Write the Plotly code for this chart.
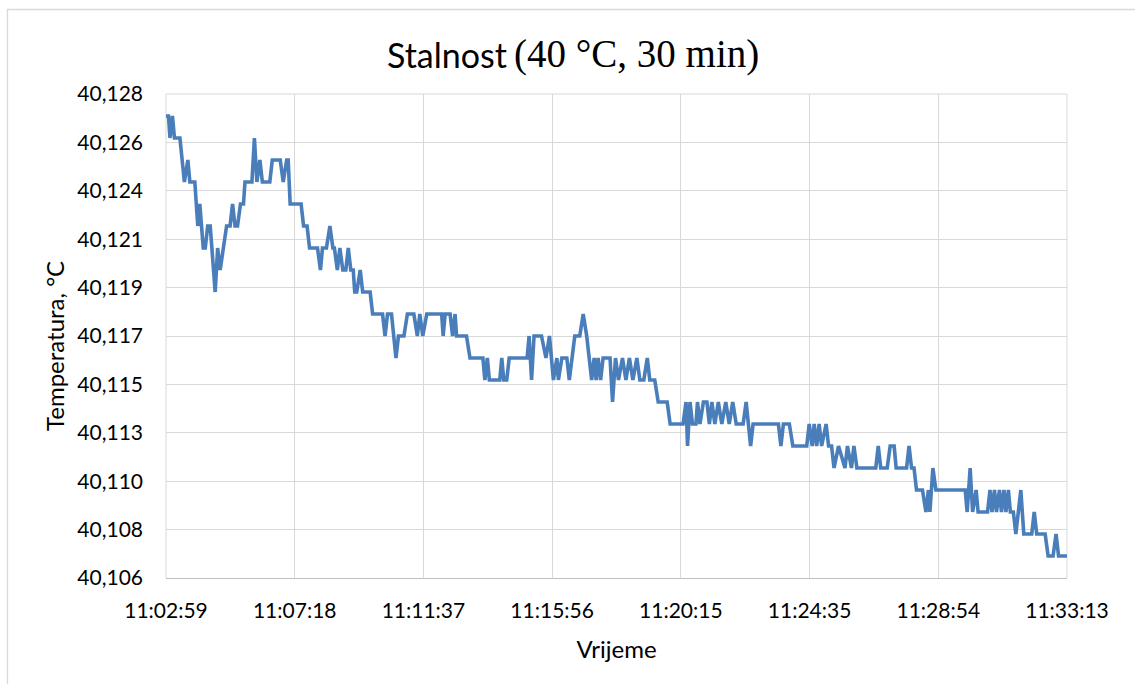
import numpy as np
import plotly.graph_objects as go

# ---- data ----
# seconds after 11:02:59
t_seconds = [
    0, 5, 8, 13, 17, 28, 37, 44, 48, 58,
    64, 68, 75, 79, 84, 89, 99, 104, 109, 115,
    122, 129, 134, 139, 144, 150, 156, 159, 173, 178,
    183, 189, 194, 209, 214, 230, 236, 243, 246, 250,
    272, 277, 284, 289, 305, 311, 315, 323, 330, 336,
    339, 345, 350, 356, 362, 367, 372, 377, 380, 384,
    391, 396, 411, 416, 436, 441, 446, 454, 463, 468,
    479, 486, 499, 506, 511, 517, 525, 555, 558, 562,
    572, 577, 582, 585, 605, 612, 638, 642, 647, 651,
    672, 676, 680, 686, 691, 727, 731, 736, 741, 756,
    765, 772, 780, 787, 790, 797, 807, 812, 817, 823,
    833, 840, 847, 852, 857, 862, 866, 870, 875, 880,
    894, 899, 905, 911, 919, 926, 933, 940, 948, 954,
    962, 969, 974, 984, 991, 1009, 1015, 1041, 1047, 1050,
    1055, 1060, 1067, 1070, 1075, 1082, 1089, 1094, 1099, 1105,
    1112, 1119, 1127, 1134, 1141, 1148, 1162, 1168, 1173, 1177,
    1182, 1196, 1233, 1238, 1243, 1255, 1262, 1290, 1295, 1301,
    1305, 1310, 1315, 1320, 1329, 1334, 1340, 1345, 1354, 1367,
    1372, 1380, 1385, 1391, 1429, 1434, 1439, 1452, 1458, 1466,
    1470, 1491, 1496, 1501, 1506, 1511, 1523, 1530, 1535, 1538,
    1544, 1550, 1609, 1613, 1619, 1624, 1631, 1635, 1654, 1659,
    1663, 1668, 1672, 1678, 1682, 1687, 1691, 1696, 1700, 1706,
    1711, 1721, 1727, 1743, 1748, 1753, 1770, 1776, 1786, 1792,
    1797, 1814,
]

temperature = [
    40.127, 40.127, 40.126, 40.127, 40.126, 40.126, 40.124, 40.125, 40.124, 40.124,
    40.122, 40.123, 40.121, 40.121, 40.122, 40.122, 40.119, 40.121, 40.120, 40.121,
    40.122, 40.122, 40.123, 40.122, 40.122, 40.123, 40.123, 40.124, 40.124, 40.126,
    40.124, 40.125, 40.124, 40.124, 40.125, 40.125, 40.124, 40.125, 40.125, 40.123,
    40.123, 40.122, 40.122, 40.121, 40.121, 40.120, 40.121, 40.121, 40.122, 40.121,
    40.121, 40.120, 40.121, 40.120, 40.120, 40.121, 40.120, 40.120, 40.119, 40.119,
    40.120, 40.119, 40.119, 40.118, 40.118, 40.117, 40.118, 40.118, 40.116, 40.117,
    40.117, 40.118, 40.118, 40.117, 40.118, 40.117, 40.118, 40.118, 40.117, 40.118,
    40.118, 40.117, 40.118, 40.117, 40.117, 40.116, 40.116, 40.115, 40.116, 40.115,
    40.115, 40.116, 40.115, 40.115, 40.116, 40.116, 40.117, 40.115, 40.117, 40.117,
    40.116, 40.117, 40.115, 40.116, 40.115, 40.116, 40.116, 40.115, 40.116, 40.117,
    40.117, 40.118, 40.117, 40.116, 40.115, 40.116, 40.115, 40.116, 40.115, 40.116,
    40.116, 40.114, 40.116, 40.115, 40.116, 40.115, 40.116, 40.115, 40.116, 40.115,
    40.115, 40.116, 40.115, 40.115, 40.114, 40.114, 40.113, 40.113, 40.114, 40.112,
    40.114, 40.113, 40.113, 40.114, 40.113, 40.114, 40.114, 40.113, 40.114, 40.113,
    40.114, 40.113, 40.114, 40.113, 40.114, 40.113, 40.113, 40.114, 40.113, 40.112,
    40.113, 40.113, 40.113, 40.112, 40.113, 40.113, 40.112, 40.112, 40.113, 40.112,
    40.113, 40.112, 40.113, 40.112, 40.113, 40.112, 40.112, 40.111, 40.112, 40.111,
    40.112, 40.111, 40.112, 40.111, 40.111, 40.112, 40.111, 40.111, 40.112, 40.112,
    40.111, 40.111, 40.112, 40.111, 40.111, 40.110, 40.110, 40.109, 40.110, 40.109,
    40.111, 40.110, 40.110, 40.109, 40.111, 40.109, 40.110, 40.109, 40.109, 40.110,
    40.109, 40.110, 40.109, 40.110, 40.109, 40.110, 40.109, 40.110, 40.109, 40.109,
    40.108, 40.110, 40.108, 40.108, 40.109, 40.108, 40.108, 40.107, 40.107, 40.108,
    40.107, 40.107,
]

x_tick_labels = ["11:02:59", "11:07:18", "11:11:37", "11:15:56",
                 "11:20:15", "11:24:35", "11:28:54", "11:33:13"]
x_axis_start = 0
x_axis_end = 1814  # 11:33:13 - 11:02:59 in seconds

y_tick_labels = ["40,106", "40,108", "40,110", "40,113", "40,115", "40,117",
                 "40,119", "40,121", "40,124", "40,126", "40,128"]
y_axis_min = 40.106
y_axis_max = 40.128

title_main = "Stalnost"
title_rest = "(40 °C, 30 min)"
x_title = "Vrijeme"
y_title = "Temperatura, °C"

# ---- figure ----
W, H = 1135, 684
L, R, T, B = 166, 68, 94, 106
pw, ph = W - L - R, H - T - B


def px_x(px):
    return (px - L) / pw


def px_y(py):
    return (H - B - py) / ph


x_tickvals = np.linspace(x_axis_start, x_axis_end, len(x_tick_labels))
y_tickvals = np.linspace(y_axis_min, y_axis_max, len(y_tick_labels))

fig = go.Figure()
fig.add_trace(go.Scatter(
    x=t_seconds, y=temperature, mode="lines",
    line=dict(color="#4a7ebb", width=3.6, shape="linear"),
    showlegend=False, hoverinfo="skip",
))

sans = "Lato, 'Open Sans', sans-serif"
tick_font = dict(family=sans, size=21, color="#000000")
axis_title_font = dict(family=sans, size=24, color="#000000")
grid = "#d9d9d9"

fig.update_layout(
    width=W, height=H,
    margin=dict(l=L, r=R, t=T, b=B, autoexpand=False),
    paper_bgcolor="white", plot_bgcolor="white",
    xaxis=dict(
        range=[x_axis_start, x_axis_end],
        tickmode="array", tickvals=x_tickvals, ticktext=x_tick_labels,
        showgrid=True, gridcolor=grid, gridwidth=1,
        showline=True, linecolor="#bfbfbf", linewidth=1.3, mirror=False,
        zeroline=False, ticks="", ticklabelstandoff=14,
        tickfont=tick_font,
        title=dict(text=x_title, font=axis_title_font, standoff=19),
    ),
    yaxis=dict(
        range=[y_axis_min, y_axis_max],
        tickmode="array", tickvals=y_tickvals, ticktext=y_tick_labels,
        showgrid=True, gridcolor=grid, gridwidth=1,
        showline=False, zeroline=False, ticks="", ticklabelstandoff=22,
        tickfont=tick_font,
    ),
)

# chart title: sans-serif word + serif (math-style) part, as in the reference
fig.add_annotation(
    text=title_main, showarrow=False, xref="paper", yref="paper",
    x=px_x(509), y=px_y(54), xanchor="right", yanchor="middle",
    font=dict(family=sans, size=34, color="#000000"),
)
fig.add_annotation(
    text=title_rest, showarrow=False, xref="paper", yref="paper",
    x=px_x(512), y=px_y(54), xanchor="left", yanchor="middle",
    font=dict(family="'Liberation Serif', serif", size=39, color="#000000"),
)

# y-axis title as an annotation (Excel places it slightly below the plot centre)
fig.add_annotation(
    text=y_title, textangle=-90, showarrow=False,
    xref="paper", yref="paper",
    x=px_x(54), y=px_y(346),
    xanchor="center", yanchor="middle",
    font=axis_title_font,
)

# plot-area frame (Excel style), drawn in axis domain coordinates
fig.add_shape(type="line", xref="x domain", yref="y domain",
              x0=1, x1=1, y0=0, y1=1, line=dict(color=grid, width=1), layer="below")
fig.add_shape(type="line", xref="x domain", yref="y domain",
              x0=0, x1=0, y0=0, y1=1, line=dict(color=grid, width=1), layer="below")
fig.add_shape(type="line", xref="x domain", yref="y domain",
              x0=0, x1=1, y0=1, y1=1, line=dict(color=grid, width=1), layer="below")

# outer chart border (partially outside the window, as in the reference)
fig.add_shape(type="rect", xref="paper", yref="paper",
              x0=px_x(7.5), x1=px_x(W + 20),
              y0=px_y(H + 20), y1=px_y(9.5),
              line=dict(color="#d9d9d9", width=1.3), fillcolor="rgba(0,0,0,0)",
              layer="below")

fig.write_html(
    "out.html",
    config={"displayModeBar": False},
    post_script="document.body.style.margin='0px';document.body.style.overflow='hidden';",
)
